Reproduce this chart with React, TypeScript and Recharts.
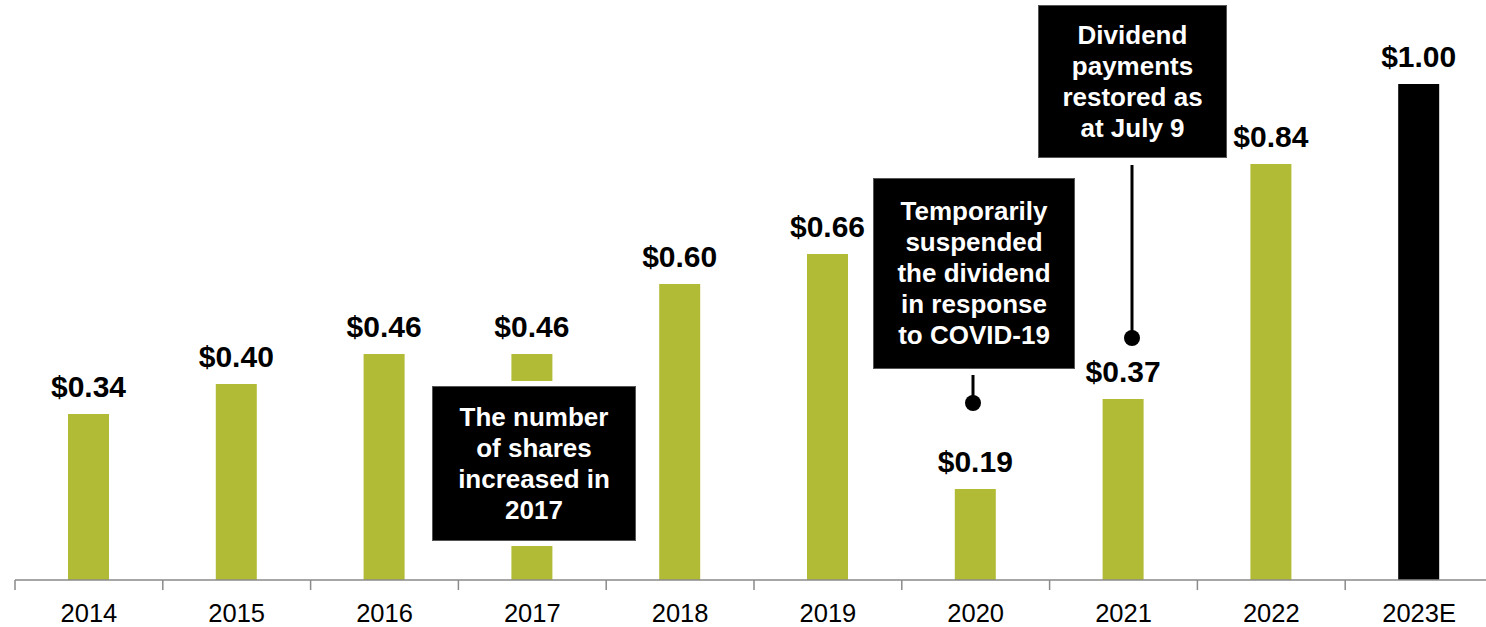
import React from 'react';
import { BarChart, Bar, XAxis, YAxis, LabelList, Cell } from 'recharts';

const years = ['2014', '2015', '2016', '2017', '2018', '2019', '2020', '2021', '2022', '2023E'];
const dividends = [0.34, 0.4, 0.46, 0.46, 0.6, 0.66, 0.19, 0.37, 0.84, 1.0];
const estimateYears = ['2023E'];

const notes = [
  { lines: ['The number', 'of shares', 'increased in', '2017'], left: 432, top: 386, width: 204, height: 155 },
  { lines: ['Temporarily', 'suspended', 'the dividend', 'in response', 'to COVID-19'], left: 873, top: 178, width: 202, height: 191 },
  { lines: ['Dividend', 'payments', 'restored as', 'at July 9'], left: 1038, top: 5, width: 189, height: 153 },
];

const leaders = [
  { x: 973, y1: 375, y2: 403 },
  { x: 1132, y1: 165, y2: 338 },
];

const data = years.map((year, i) => ({ year, value: dividends[i] }));

const GREEN = '#b2bb36';
const FONT = 'Arial, "Liberation Sans", Helvetica, sans-serif';

const YearTick = (props: any) => {
  const { x, y, payload } = props;
  const half = payload && payload.offset ? payload.offset : 73.9;
  return (
    <g>
      <line x1={x - half} x2={x - half} y1={y} y2={y + 10} stroke="#8a8a8a" strokeWidth={1.5} />
      <text x={x} y={y + 42} textAnchor="middle" fontSize={25.5} fill="#000" fontFamily={FONT}>
        {payload.value}
      </text>
    </g>
  );
};

export default function App() {
  return (
    <div
      style={{
        position: 'absolute',
        left: 0,
        top: 0,
        width: 1486,
        height: 627,
        overflow: 'hidden',
        background: '#fff',
        fontFamily: FONT,
      }}
    >
      <BarChart width={1500} height={627} data={data} margin={{ top: 84, right: 7, left: 15, bottom: 0 }}>
        <XAxis
          dataKey="year"
          height={47}
          tickLine={false}
          tickSize={0}
          tickMargin={0}
          axisLine={{ stroke: '#8a8a8a', strokeWidth: 1.5 }}
          tick={<YearTick />}
          interval={0}
        />
        <YAxis hide domain={[0.008, 1]} allowDataOverflow />
        <Bar dataKey="value" barSize={41} isAnimationActive={false}>
          {data.map((d) => (
            <Cell key={d.year} fill={estimateYears.includes(d.year) ? '#000' : GREEN} />
          ))}
          <LabelList
            dataKey="value"
            position="top"
            offset={17}
            formatter={(v: any) => `$${Number(v).toFixed(2)}`}
            style={{ fontSize: 30, fontWeight: 700, fill: '#000', fontFamily: FONT }}
          />
        </Bar>
      </BarChart>

      <svg width={1486} height={627} style={{ position: 'absolute', left: 0, top: 0, pointerEvents: 'none' }}>
        {leaders.map((l, i) => (
          <g key={i}>
            <line x1={l.x} x2={l.x} y1={l.y1} y2={l.y2} stroke="#000" strokeWidth={3} />
            <circle cx={l.x} cy={l.y2} r={8} fill="#000" />
          </g>
        ))}
      </svg>

      {notes.map((n, i) => (
        <div
          key={i}
          style={{
            position: 'absolute',
            left: n.left,
            top: n.top,
            width: n.width,
            height: n.height,
            boxSizing: 'border-box',
            background: '#000',
            border: '1px solid #555',
            boxShadow: '0 0 0 5px #fff',
            color: '#fff',
            fontWeight: 700,
            fontSize: 26,
            lineHeight: '31px',
            textAlign: 'center',
            display: 'flex',
            flexDirection: 'column',
            justifyContent: 'center',
          }}
        >
          {n.lines.map((t) => (
            <div key={t}>{t}</div>
          ))}
        </div>
      ))}
    </div>
  );
}
